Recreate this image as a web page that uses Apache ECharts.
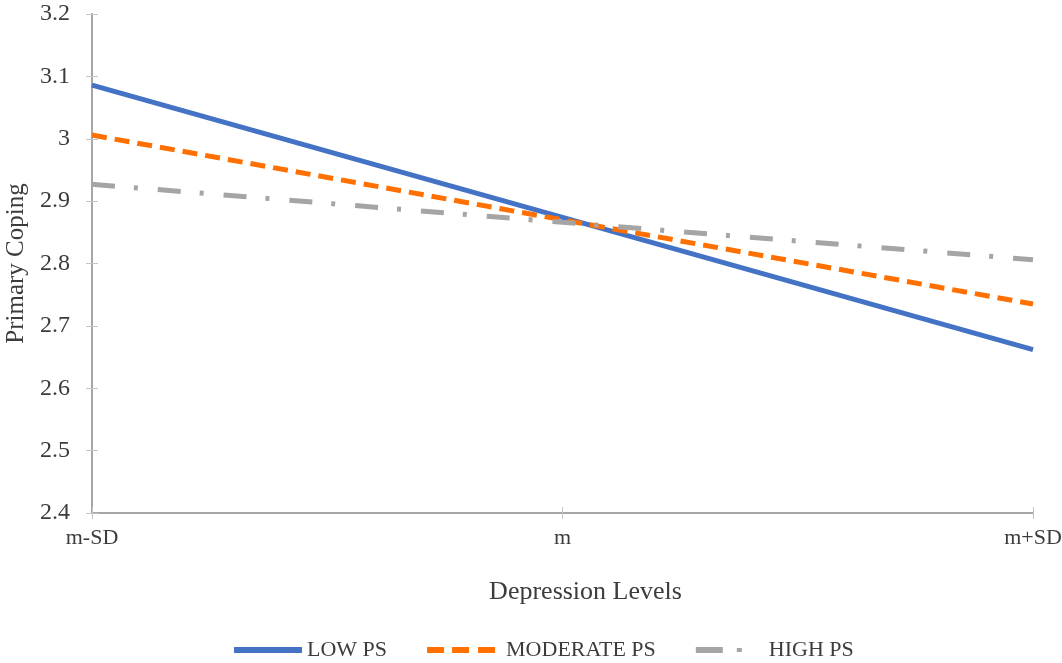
<!DOCTYPE html>
<html>
<head>
<meta charset="utf-8">
<script src="https://cdn.jsdelivr.net/npm/echarts@6/dist/echarts.min.js"></script>
<style>html,body{margin:0;padding:0;background:#fff}#c{width:1062px;height:663px}</style>
</head>
<body>
<div id="c"></div>
<script>
var categories = ['m-SD', 'm', 'm+SD'];
var lowPS = [3.086, 2.874, 2.662];
var moderatePS = [3.006, 2.870, 2.735];
var highPS = [2.927, 2.866, 2.806];
var yTicks = { min: 2.4, max: 3.2, interval: 0.1 };

var chart = echarts.init(document.getElementById('c'));
var font = 'Liberation Serif, Times New Roman, serif';
var txt = '#3c3c3c';

function xAx(main) {
  return {
    type: 'category',
    data: categories,
    boundaryGap: false,
    position: 'bottom',
    name: main ? 'Depression Levels' : '',
    nameLocation: 'middle',
    nameGap: 66,
    nameTextStyle: { fontFamily: font, fontSize: 26, color: txt, padding: [0, 0, 0, 46] },
    axisLine: { show: main, lineStyle: { color: '#a6a6a6', width: 2 } },
    axisTick: { show: true, alignWithLabel: true, inside: !main, length: 6, lineStyle: { color: '#c4c4c4' } },
    axisLabel: { show: main, fontFamily: font, fontSize: 22, color: txt, margin: 14 },
    splitLine: { show: false }
  };
}
function yAx(main) {
  return {
    type: 'value',
    min: yTicks.min, max: yTicks.max, interval: yTicks.interval,
    position: 'left',
    name: main ? 'Primary Coping' : '',
    nameLocation: 'middle',
    nameGap: 60,
    nameTextStyle: { fontFamily: font, fontSize: 25, color: txt },
    axisLine: { show: main, lineStyle: { color: '#a6a6a6', width: 2 } },
    axisTick: { show: true, inside: !main, length: 6, lineStyle: { color: '#c4c4c4' } },
    axisLabel: { show: main, fontFamily: font, fontSize: 24, color: txt, margin: 22,
      formatter: function (v) { return String(Math.round(v * 10) / 10); } },
    splitLine: { show: false }
  };
}

chart.setOption({
  animation: false,
  backgroundColor: '#fff',
  grid: { left: 92, right: 29, top: 14, bottom: 150, containLabel: false, outerBoundsMode: 'none' },
  xAxis: [xAx(true), xAx(false)],
  yAxis: [yAx(true), yAx(false)],
  legend: {
    top: 634,
    left: 229,
    itemWidth: 68,
    itemHeight: 6,
    itemGap: 40,
    symbolKeepAspect: false,
    textStyle: { fontFamily: font, fontSize: 22, color: txt },
    data: [
      { name: 'LOW PS', icon: 'path://M0 0H68V6H0Z' },
      { name: 'MODERATE PS', icon: 'path://M0 0H17V6H0Z M25 0H42V6H25Z M51 0H68V6H51Z M0 0Z', textStyle: { padding: [0, 0, 0, 6] } },
      { name: 'HIGH PS', icon: 'path://M0 0H27V6H0Z M41 1H46V5H41Z M67.9 0L68 0L68 0.1Z', textStyle: { padding: [0, 0, 0, 0] } }
    ]
  },
  series: [
    { name: 'LOW PS', type: 'line', data: lowPS, symbol: 'none',
      lineStyle: { color: '#4472c4', width: 5 }, itemStyle: { color: '#4472c4' } },
    { name: 'MODERATE PS', type: 'line', data: moderatePS, symbol: 'none',
      lineStyle: { color: '#ff7000', width: 5, type: [15, 8] }, itemStyle: { color: '#ff7000' } },
    { name: 'HIGH PS', type: 'line', data: highPS, symbol: 'none',
      lineStyle: { color: '#a5a5a5', width: 5, type: [23, 19, 4, 20] }, itemStyle: { color: '#a5a5a5' } }
  ]
});
</script>
</body>
</html>
